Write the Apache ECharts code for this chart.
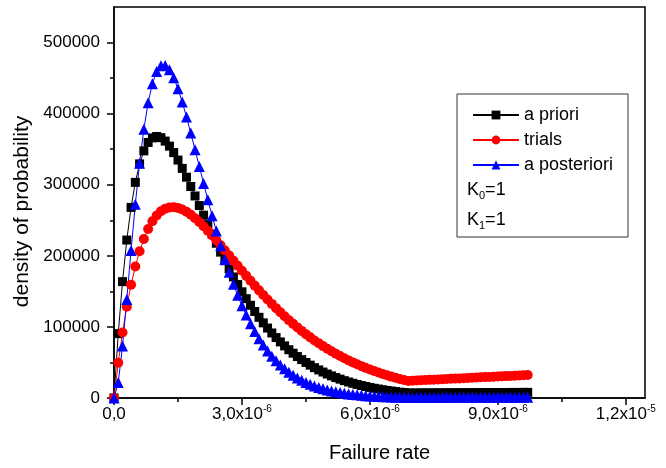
<!DOCTYPE html>
<html>
<head>
<meta charset="utf-8">
<script src="https://cdn.jsdelivr.net/npm/echarts@6/dist/echarts.min.js"></script>
<style>
  html, body { margin: 0; padding: 0; background: #fff; }
  #chart { width: 666px; height: 468px; }
</style>
</head>
<body>
<div id="chart"></div>
<script>
// failure rate, in units of 1e-6
const rate = [
  0.0, 0.1, 0.2, 0.3, 0.4, 0.5, 0.6, 0.7, 0.8, 0.9,
  1.0, 1.1, 1.2, 1.3, 1.4, 1.5, 1.6, 1.7, 1.8, 1.9,
  2.0, 2.1, 2.2, 2.3, 2.4, 2.5, 2.6, 2.7, 2.8, 2.9,
  3.0, 3.1, 3.2, 3.3, 3.4, 3.5, 3.6, 3.7, 3.8, 3.9,
  4.0, 4.1, 4.2, 4.3, 4.4, 4.5, 4.6, 4.7, 4.8, 4.9,
  5.0, 5.1, 5.2, 5.3, 5.4, 5.5, 5.6, 5.7, 5.8, 5.9,
  6.0, 6.1, 6.2, 6.3, 6.4, 6.5, 6.6, 6.7, 6.8, 6.9,
  7.0, 7.1, 7.2, 7.3, 7.4, 7.5, 7.6, 7.7, 7.8, 7.9,
  8.0, 8.1, 8.2, 8.3, 8.4, 8.5, 8.6, 8.7, 8.8, 8.9,
  9.0, 9.1, 9.2, 9.3, 9.4, 9.5, 9.6, 9.7
];

const aPriori = [
  0, 90500, 163700, 222200, 268100, 303300, 329300, 347600, 359500, 365900,
  367900, 366200, 361400, 354300, 345200, 334700, 323000, 310600, 297500, 284200,
  270700, 257200, 243800, 230600, 217700, 205200, 193100, 181500, 170300, 159600,
  149400, 139700, 130400, 121700, 113500, 105700, 98400, 91500, 85000, 78900,
  73300, 67900, 63000, 58300, 54000, 50000, 46200, 42700, 39500, 36500,
  33700, 31100, 28700, 26500, 24400, 22500, 20700, 19100, 17600, 16200,
  14900, 13700, 12600, 11600, 10600, 9800, 9000, 8200, 7600, 7000,
  7000, 7000, 7100, 7100, 7100, 7200, 7200, 7200, 7300, 7300,
  7300, 7400, 7400, 7400, 7500, 7500, 7500, 7600, 7600, 7600,
  7700, 7700, 7700, 7800, 7800, 7800, 7900, 7900
];

const trials = [
  0, 49500, 92100, 128400, 159200, 184900, 206300, 223700, 237700, 248600,
  256800, 262600, 266300, 268100, 268400, 267400, 265100, 261900, 257700, 252900,
  247500, 241600, 235200, 228600, 221800, 214800, 207600, 200400, 193200, 186000,
  178900, 171800, 164900, 158100, 151400, 144900, 138500, 132400, 126400, 120600,
  115000, 109500, 104300, 99300, 94400, 89800, 85300, 81000, 76900, 73000,
  69300, 65700, 62300, 59000, 55900, 52900, 50100, 47400, 44800, 42400,
  40100, 37900, 35800, 33800, 31900, 30100, 28500, 26800, 25300, 23900,
  24200, 24500, 24900, 25200, 25500, 25800, 26100, 26400, 26700, 27000,
  27300, 27600, 27900, 28200, 28500, 28800, 29100, 29400, 29700, 30000,
  30300, 30500, 30800, 31100, 31400, 31700, 32000, 32300
];

const aPosteriori = [
  0, 21800, 73300, 138700, 207400, 272600, 330200, 378000, 415300, 442100,
  459100, 467300, 467800, 461800, 450500, 435000, 416300, 395300, 372700, 349300,
  325600, 301900, 278700, 256300, 234800, 214300, 194800, 176900, 160000, 144400,
  129800, 116700, 104500, 93600, 83500, 74500, 66100, 58800, 52400, 46500,
  41000, 36200, 32000, 28200, 24800, 21900, 19200, 16900, 14800, 13000,
  11300, 10000, 8700, 7600, 6600, 5800, 5000, 4400, 3800, 3300,
  2900, 2500, 2200, 1900, 1700, 1400, 1200, 1100, 900, 800,
  800, 800, 800, 800, 800, 800, 800, 900, 900, 900,
  900, 900, 900, 900, 900, 1000, 1000, 1000, 1000, 1000,
  1000, 1000, 1100, 1100, 1100, 1100, 1100, 1100
];

const xMajor = [0, 3, 6, 9, 12];
const xMinor = [1.5, 4.5, 7.5, 10.5];
const xTickText = ['0,0', '3,0x10', '6,0x10', '9,0x10', '1,2x10'];
const xTickPower = ['', '-6', '-6', '-6', '-5'];
const yMajor = [0, 100000, 200000, 300000, 400000, 500000];
const yMinor = [50000, 150000, 250000, 350000, 450000];

const font = 'Liberation Sans, Arial, sans-serif';
const pairs = ys => rate.map((x, i) => [x, ys[i]]);

const axisBase = {
  type: 'value',
  axisLine: { show: true, lineStyle: { color: '#000', width: 1.5 } },
  splitLine: { show: false },
};

const kRich = {
  k: { fontFamily: font, fontSize: 18, fill: '#000', lineHeight: 22 },
  s: { fontFamily: font, fontSize: 11, fill: '#000', lineHeight: 22, verticalAlign: 'bottom', padding: [8, 0, 0, 0] }
};

const option = {
  animation: false,
  backgroundColor: '#fff',
  grid: {
    left: 114, right: 21, top: 7, bottom: 69,
    show: true, borderColor: '#000', borderWidth: 1.5
  },
  xAxis: [
    {
      ...axisBase,
      position: 'bottom',
      min: 0, max: 12.45,
      name: 'Failure rate',
      nameLocation: 'middle',
      nameGap: 45,
      nameTextStyle: { fontFamily: font, fontSize: 20, color: '#000' },
      axisTick: { show: true, inside: false, length: 7, customValues: xMajor,
        lineStyle: { color: '#000', width: 1.5 } },
      axisLabel: {
        customValues: xMajor,
        margin: 6,
        formatter: v => {
          const i = xMajor.indexOf(Math.round(v * 100) / 100);
          if (i < 0) return '';
          return xTickPower[i] ? '{m|' + xTickText[i] + '}{e|' + xTickPower[i] + '}' : '{m|' + xTickText[i] + '}';
        },
        rich: {
          m: { fontFamily: font, fontSize: 17, color: '#000', lineHeight: 20 },
          e: { fontFamily: font, fontSize: 10, color: '#000', lineHeight: 10, verticalAlign: 'top' }
        }
      }
    },
    {
      ...axisBase,
      position: 'bottom',
      min: 0, max: 12.45,
      axisLine: { show: false },
      axisTick: { show: true, length: 4, customValues: xMinor,
        lineStyle: { color: '#000', width: 1.5 } },
      axisLabel: { show: false }
    }
  ],
  yAxis: [
    {
      ...axisBase,
      position: 'left',
      min: 0, max: 550000,
      name: 'density of probability',
      nameLocation: 'middle',
      nameGap: 81,
      nameTextStyle: { fontFamily: font, fontSize: 21, color: '#000', padding: [0, 18, 0, 0] },
      axisTick: { show: true, length: 7, customValues: yMajor,
        lineStyle: { color: '#000', width: 1.5 } },
      axisLabel: {
        customValues: yMajor,
        margin: 14,
        fontFamily: font, fontSize: 17, color: '#000',
        formatter: v => String(v)
      }
    },
    {
      ...axisBase,
      position: 'left',
      min: 0, max: 550000,
      axisLine: { show: false },
      axisTick: { show: true, length: 4, customValues: yMinor,
        lineStyle: { color: '#000', width: 1.5 } },
      axisLabel: { show: false }
    }
  ],
  legend: {
    orient: 'vertical',
    left: 467, top: 101,
    itemWidth: 46, itemHeight: 11, itemGap: 7,
    textStyle: { fontFamily: font, fontSize: 18, color: '#000' },
    data: ['a priori', 'trials', 'a posteriori']
  },
  graphic: [
    { type: 'rect', shape: { x: 457, y: 94, width: 171, height: 143 },
      style: { fill: 'none', stroke: '#333', lineWidth: 1 }, z: 100 },
    { type: 'text', left: 467, top: 181, z: 100,
      style: { text: '{k|K}{s|0}{k|=1}', rich: kRich } },
    { type: 'text', left: 467, top: 211, z: 100,
      style: { text: '{k|K}{s|1}{k|=1}', rich: kRich } }
  ],
  series: [
    {
      name: 'a priori', type: 'line', data: pairs(aPriori),
      symbol: 'rect', symbolSize: 9, showAllSymbol: true,
      itemStyle: { color: '#000' }, lineStyle: { color: '#000', width: 1 }
    },
    {
      name: 'trials', type: 'line', data: pairs(trials),
      symbol: 'circle', symbolSize: 10, showAllSymbol: true,
      itemStyle: { color: '#ff0000' }, lineStyle: { color: '#ff0000', width: 1 }
    },
    {
      name: 'a posteriori', type: 'line', data: pairs(aPosteriori),
      symbol: 'triangle', symbolSize: 11, showAllSymbol: true,
      itemStyle: { color: '#0000ff' }, lineStyle: { color: '#0000ff', width: 1 }
    }
  ]
};

const chart = echarts.init(document.getElementById('chart'));
chart.setOption(option);
</script>
</body>
</html>
